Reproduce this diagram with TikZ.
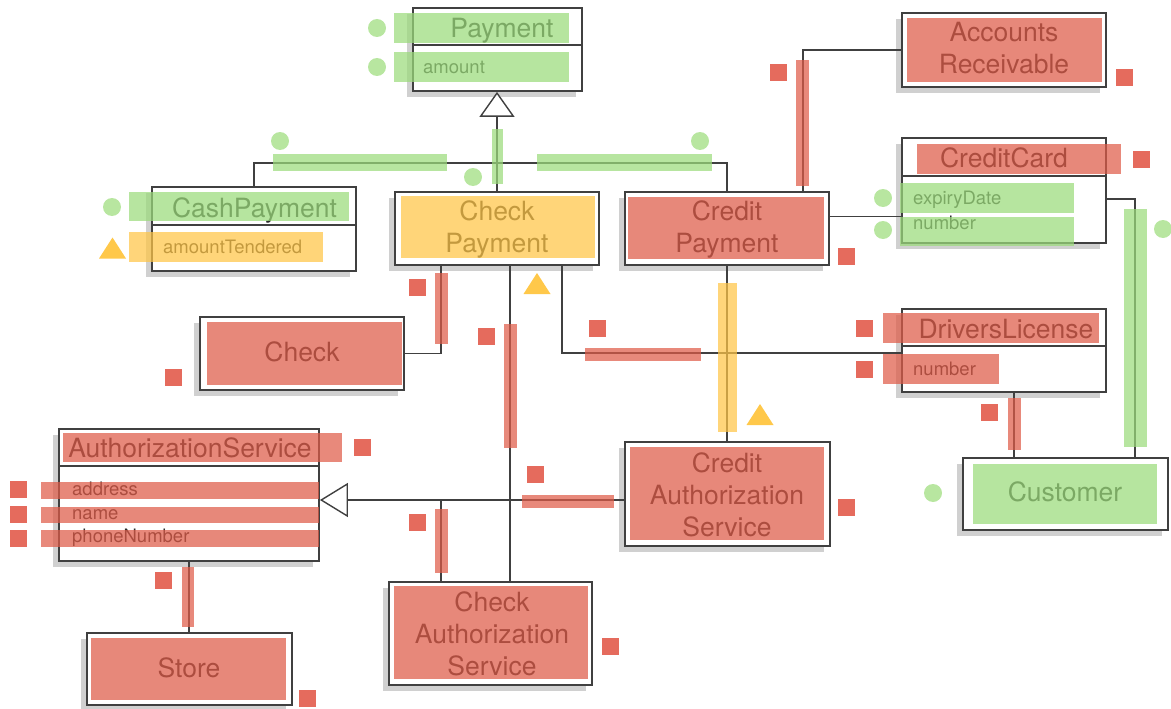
\documentclass[tikz,border=0pt]{standalone}
\usepackage{fontspec}
\setmainfont{TeX Gyre Heros}
\usetikzlibrary{arrows.meta,shadows}
\definecolor{linec}{HTML}{404040}
\definecolor{txtc}{HTML}{2A2A2A}
\definecolor{shadowc}{HTML}{D0D0D0}
\definecolor{hlred}{HTML}{DF5B48}
\definecolor{hlgreen}{HTML}{9BDB7B}
\definecolor{hlyellow}{HTML}{FFC546}
\definecolor{mkred}{HTML}{E56B5D}
\definecolor{mkgreen}{HTML}{B8E6A0}
\definecolor{mkyellow}{HTML}{FFC84A}
\tikzset{
  cls/.style={draw=linec, line width=1.8pt, fill=white, inner sep=0pt, minimum width=204pt, minimum height=73pt,
    general shadow={fill=shadowc, shadow xshift=-6pt, shadow yshift=-6pt}},
  ttl/.style={font=\fontsize{26.5}{32}\selectfont, text=txtc, inner sep=0pt, align=center},
  ttlone/.style={ttl, text height=19pt, text depth=0pt},
  att/.style={font=\fontsize{18.5}{22}\selectfont, text=txtc, inner sep=0pt, anchor=west, text height=13.3pt, text depth=0pt},
  link/.style={draw=linec, line width=1.4pt},
  inh/.style={-{Triangle[fill=white, length=25pt, width=35pt]}},
  hlr/.style={fill=hlred, fill opacity=0.72},
  hlg/.style={fill=hlgreen, fill opacity=0.72},
  hly/.style={fill=hlyellow, fill opacity=0.72},
  tri/.pic={\fill[mkyellow] (-13.5,10.5) -- (0,-10.5) -- (13.5,10.5) -- cycle;},
}
\begin{document}
\begin{tikzpicture}[x=1pt, y=-1pt]
  \useasboundingbox (0,0) rectangle (1171,709);

  % classes
  \node[cls, minimum width=169pt, minimum height=83pt] (pay) at (497.5,49.5) {};
  \node[cls, minimum height=84pt] (cash) at (254,229) {};
  \node[cls] (chkpay) at (497,228.5) {};
  \node[cls] (crpay) at (727,228.5) {};
  \node[cls, minimum height=74pt] (acr) at (1004,50) {};
  \node[cls, minimum height=105pt] (ccard) at (1004,190.5) {};
  \node[cls] (check) at (302,353.5) {};
  \node[cls, minimum height=83pt] (dlic) at (1004,350.5) {};
  \node[cls, minimum width=260pt, minimum height=132pt] (auth) at (189,495) {};
  \node[cls, minimum width=205pt, minimum height=104pt] (crauth) at (727.5,494) {};
  \node[cls, minimum width=205pt, minimum height=72pt] (cust) at (1065.5,494) {};
  \node[cls, minimum width=203pt, minimum height=103pt] (chkauth) at (490.5,633.5) {};
  \node[cls, minimum width=205pt, minimum height=72pt] (store) at (189.5,669) {};

  \foreach \n/\d in {pay/38pt,cash/39pt,ccard/39pt,dlic/38pt,auth/38pt}
    \draw[link, line width=1.8pt] ([yshift=-\d]\n.north west) -- ([yshift=-\d]\n.north east);

  % texts
  \node[ttlone] (payT) at (502,28) {Payment};
  \node[att] (payA) at (423,67) {amount};
  \node[ttlone] (cashT) at (254.5,207.6) {CashPayment};
  \node[att] (cashA) at (163,247) {amountTendered};
  \node[ttl] (chkpayT) at (497,229) {Check\\Payment};
  \node[ttl] (crpayT) at (727,229) {Credit\\Payment};
  \node[ttl] (acrT) at (1004,48) {Accounts\\Receivable};
  \node[ttlone] (ccardT) at (1004,157.6) {CreditCard};
  \node[att] (ccardA) at (913,197.5) {expiryDate};
  \node[att] (ccardB) at (913,222.5) {number};
  \node[ttlone] (dlicT) at (1006,328.6) {DriversLicense};
  \node[att] (dlicA) at (913,368.5) {number};
  \node[ttlone] (checkT) at (302,351.6) {Check};
  \node[ttlone] (authT) at (190,447.6) {AuthorizationService};
  \node[att] (authA) at (72,488.5) {address};
  \node[att] (authB) at (72,512.5) {name};
  \node[att] (authC) at (72,535.5) {phoneNumber};
  \node[ttl] (crauthT) at (727,494.5) {Credit\\Authorization\\Service};
  \node[ttlone] (custT) at (1065,491.6) {Customer};
  \node[ttl] (chkauthT) at (492,633.5) {Check\\Authorization\\Service};
  \node[ttlone] (storeT) at (189,667.6) {Store};

  % connectors
  \coordinate (bus) at (497,163);
  \draw[link] (cash.north) |- (bus) -| (crpay.north);
  \draw[link, inh] (chkpay.north) -- (chkpay.north |- pay.south);
  \draw[link] (acr.west) -| ([xshift=76pt]crpay.north);
  \coordinate (cpe) at ([yshift=12pt]crpay.east);
  \draw[link] (cpe) -- (cpe -| ccard.west);
  \draw[link] ([yshift=-8.5pt]ccard.east) -| ([xshift=69.5pt]cust.north);
  \coordinate (dlb) at ([xshift=10pt]dlic.south);
  \draw[link] (dlb) -- (dlb |- cust.north);
  \draw[link] (crpay.south) -- (crpay.south |- crauth.north);
  \draw[link] ([xshift=-56pt]chkpay.south) |- (check.east);
  \coordinate (cpb) at ([xshift=13pt]chkpay.south);
  \draw[link] (cpb) -- (cpb |- chkauth.north);
  \draw[link] ([xshift=65pt]chkpay.south) |- ([yshift=-2.5pt]dlic.west);
  \coordinate (gen) at ([yshift=-6pt]crauth.west);
  \draw[link, -{Triangle[fill=white, length=28pt, width=34pt]}] (gen) -- (gen -| auth.east);
  \coordinate (cab) at ([xshift=-49.5pt]chkauth.north);
  \draw[link] (cab) -- (cab |- gen);
  \draw[link] (auth.south) -- (auth.south |- store.north);

  % highlights
  \foreach \xa/\ya/\xb/\yb in {394/13/569/43, 394/52/569/82, 492/129/503/184, 273/154/447/171,
      537/154/712/171, 129/192/349/221, 900/183/1074/213, 900/217/1074/246, 1124/209/1147/447, 973/464/1157/524}
    \fill[hlg] (\xa,\ya) rectangle (\xb,\yb);
  \foreach \xa/\ya/\xb/\yb in {129/232/323/262, 401/196/595/258, 718/283/737/432}
    \fill[hly] (\xa,\ya) rectangle (\xb,\yb);
  \foreach \xa/\ya/\xb/\yb in {907/18/1102/82, 796/60/809/186, 628/197/824/259, 917/144/1121/174,
      883/313/1099/343, 883/354/999/384, 1008/398/1021/450, 630/447/824/540, 435/273/448/344,
      504/324/517/448, 585/348/701/361, 522/495/614/508, 435/509/448/573, 394/586/588/679,
      207/322/402/385, 63/433/342/462, 41/482/319/499, 41/507/319/523, 41/530/319/547,
      182/567/194/627, 91/638/286/700}
    \fill[hlr] (\xa,\ya) rectangle (\xb,\yb);

  % markers
  \foreach \p in {(377,28),(377,67),(280,141),(473,177),(700,141),(112,207),(883,198),(883,230),(1163,229),(933,493)}
    \fill[mkgreen] \p circle (9);
  \foreach \p in {(778,73),(1124,78),(846,256),(1141,159),(864,328),(864,369),(989,412),(846,507),
      (417,287),(486,336),(597,328),(535,474),(417,522),(610,646),(173,377),(362,447),
      (18,489),(18,514),(18,538),(163,580),(307,698)}
    \fill[mkred] \p ++(-8.5,-8.5) rectangle ++(17,17);
  \foreach \p in {(112.5,248),(537,283.5),(760,414.5)}
    \pic at \p {tri};
\end{tikzpicture}
\end{document}
